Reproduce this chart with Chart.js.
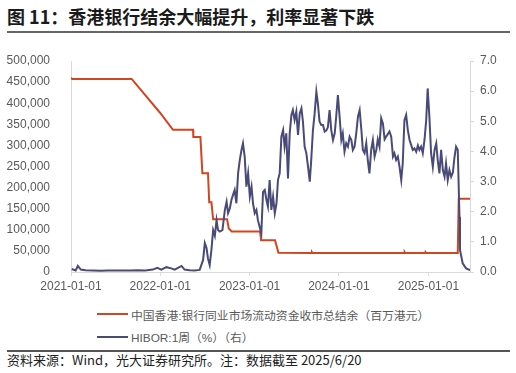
<!DOCTYPE html>
<html>
<head>
<meta charset="utf-8">
<script src="https://cdn.jsdelivr.net/npm/chart.js@4.4.0/dist/chart.umd.min.js"></script>
<style>
  body { margin: 0; width: 516px; height: 373px; background: #fff; position: relative; overflow: hidden;
         font-family: "Liberation Sans", "Noto Sans CJK SC", sans-serif; }
  #title { position: absolute; left: 7px; top: 6px; font: bold 18px/20px "Noto Sans CJK SC", sans-serif; color: #1a1a1a; white-space: nowrap; }
  .rule { position: absolute; left: 7px; width: 503px; background: #666; }
  #wrap { position: absolute; left: 0; top: 40px; width: 516px; height: 260px; }
  #legend { position: absolute; left: 97px; top: 305px; }
  #legend .row { display: flex; align-items: center; height: 18px; margin-bottom: 4.7px; }
  #legend .sw { width: 31px; height: 2px; margin-right: 3px; }
  #legend .tx { font: 11.8px "Liberation Sans", "Noto Sans CJK SC", sans-serif; color: #595959; white-space: nowrap; }
  #source { position: absolute; left: 7px; top: 352px; font: 13px/16px "Noto Sans CJK SC", sans-serif; color: #222; white-space: nowrap; }
</style>
</head>
<body>
<div id="title">图 11：香港银行结余大幅提升，利率显著下跌</div>
<div class="rule" style="top:31px;height:2px;"></div>
<div id="wrap"><canvas id="chart"></canvas></div>
<div id="legend"></div>
<div class="rule" style="top:350px;height:1.5px;background:#555;"></div>
<div id="source">资料来源：Wind，光大证券研究所。注：数据截至 2025/6/20</div>

<script>
// 总结余（百万港元）
const balanceDates = [
  '2021-01-01', '2021-01-06', '2021-09-06', '2021-12-30', '2022-02-22', '2022-05-15', '2022-05-16',
  '2022-06-14', '2022-06-22', '2022-07-15', '2022-07-20', '2022-07-29', '2022-08-05', '2022-10-01',
  '2022-10-08', '2022-10-20', '2023-02-13', '2023-02-17', '2023-04-15', '2023-04-29', '2023-09-12',
  '2023-09-13', '2023-09-15', '2024-03-20', '2024-03-21', '2024-03-23', '2024-09-25', '2024-09-26',
  '2024-09-28', '2024-12-20', '2024-12-21', '2024-12-23', '2025-05-01', '2025-05-05', '2025-06-20'
];
const balanceValues = [
  460000, 457500, 457500, 378000, 337000, 337000, 320000,
  320000, 234000, 234000, 165000, 165000, 125000, 125000,
  103000, 96000, 96000, 75500, 75500, 45500, 45000,
  46800, 45000, 45000, 46500, 45000, 45000, 47000,
  45000, 45000, 46500, 45000, 45000, 173500, 173500
];

// HIBOR 1周（%）
const hiborDates = [
  '2021-01-04', '2021-01-20', '2021-01-29', '2021-02-10', '2021-03-01', '2021-04-01', '2021-05-01',
  '2021-06-01', '2021-07-01', '2021-08-01', '2021-09-01', '2021-10-01', '2021-11-01', '2021-12-01',
  '2021-12-20', '2022-01-05', '2022-01-26', '2022-02-15', '2022-03-01', '2022-03-29', '2022-04-10',
  '2022-05-01', '2022-05-20', '2022-06-11', '2022-06-25', '2022-07-02', '2022-07-09', '2022-07-15',
  '2022-07-22', '2022-07-29', '2022-08-05', '2022-08-12', '2022-08-19', '2022-08-25', '2022-09-01',
  '2022-09-12', '2022-09-22', '2022-09-29', '2022-10-05', '2022-10-12', '2022-10-19', '2022-10-25',
  '2022-11-01', '2022-11-08', '2022-11-15', '2022-11-22', '2022-11-29', '2022-12-05', '2022-12-12',
  '2022-12-19', '2022-12-26', '2023-01-02', '2023-01-09', '2023-01-15', '2023-01-22', '2023-01-29',
  '2023-02-04', '2023-02-11', '2023-02-18', '2023-02-25', '2023-03-04', '2023-03-11', '2023-03-17',
  '2023-03-24', '2023-03-31', '2023-04-07', '2023-04-14', '2023-04-21', '2023-04-27', '2023-05-04',
  '2023-05-11', '2023-05-18', '2023-05-24', '2023-05-31', '2023-06-07', '2023-06-14', '2023-06-21',
  '2023-06-27', '2023-07-04', '2023-07-11', '2023-07-18', '2023-07-25', '2023-08-01', '2023-08-07',
  '2023-08-14', '2023-08-21', '2023-08-28', '2023-09-04', '2023-09-10', '2023-09-17', '2023-09-24',
  '2023-10-01', '2023-10-07', '2023-10-14', '2023-10-21', '2023-10-28', '2023-11-04', '2023-11-11',
  '2023-11-17', '2023-11-24', '2023-12-01', '2023-12-08', '2023-12-15', '2023-12-21', '2023-12-28',
  '2024-01-04', '2024-01-11', '2024-01-17', '2024-01-24', '2024-01-31', '2024-02-07', '2024-02-14',
  '2024-02-21', '2024-02-27', '2024-03-05', '2024-03-12', '2024-03-19', '2024-03-26', '2024-04-02',
  '2024-04-08', '2024-04-15', '2024-04-22', '2024-04-28', '2024-05-05', '2024-05-12', '2024-05-19',
  '2024-05-26', '2024-06-02', '2024-06-08', '2024-06-15', '2024-06-22', '2024-06-29', '2024-07-06',
  '2024-07-13', '2024-07-26', '2024-08-02', '2024-08-09', '2024-08-15', '2024-08-22', '2024-08-29',
  '2024-09-05', '2024-09-12', '2024-09-18', '2024-09-25', '2024-10-02', '2024-10-09', '2024-10-16',
  '2024-10-23', '2024-10-29', '2024-11-05', '2024-11-12', '2024-11-19', '2024-11-25', '2024-12-02',
  '2024-12-09', '2024-12-16', '2024-12-23', '2024-12-29', '2025-01-05', '2025-01-12', '2025-01-19',
  '2025-01-26', '2025-02-02', '2025-02-08', '2025-02-15', '2025-02-22', '2025-03-01', '2025-03-08',
  '2025-03-14', '2025-03-21', '2025-03-28', '2025-04-04', '2025-04-11', '2025-04-17', '2025-04-24',
  '2025-05-01', '2025-05-08', '2025-05-10', '2025-05-21', '2025-06-04', '2025-06-18', '2025-06-20'
];
const hiborValues = [
  0.10, 0.05, 0.20, 0.08, 0.06, 0.05, 0.04,
  0.05, 0.05, 0.05, 0.05, 0.06, 0.05, 0.08,
  0.14, 0.08, 0.16, 0.12, 0.08, 0.20, 0.08,
  0.06, 0.05, 0.07, 0.40, 0.96, 0.80, 0.45,
  0.23, 0.73, 1.39, 1.20, 1.72, 1.39, 1.34,
  1.39, 2.06, 2.33, 1.95, 2.10, 2.40, 2.55,
  2.72, 2.28, 3.27, 3.72, 4.05, 4.27, 3.83,
  2.83, 3.27, 2.50, 2.83, 2.28, 1.95, 2.06,
  1.72, 1.50, 1.28, 2.66, 2.72, 2.39, 2.17,
  3.05, 2.06, 2.50, 1.95, 2.28, 3.05, 3.27,
  4.49, 4.71, 4.16, 4.60, 3.10, 4.60, 5.21,
  5.37, 5.04, 5.32, 4.55, 5.26, 5.43, 5.00,
  4.16, 3.94, 3.49, 3.00, 3.72, 4.71, 5.26,
  5.98, 5.60, 4.99, 4.88, 4.88, 4.66, 4.70,
  4.80, 5.37, 4.70, 4.38, 4.60, 5.15, 5.87,
  5.15, 4.38, 4.60, 3.99, 4.27, 4.16, 4.49,
  4.38, 4.05, 4.16, 4.60, 5.15, 5.37, 4.71,
  4.05, 3.94, 4.27, 3.72, 3.27, 4.05, 4.38,
  3.83, 4.05, 4.40, 4.16, 5.10, 4.93, 4.40,
  4.50, 4.66, 4.49, 3.83, 3.94, 3.72, 3.83,
  3.49, 3.05, 3.60, 5.04, 5.21, 4.70, 4.38,
  4.20, 4.05, 4.10, 3.99, 4.20, 4.05, 4.16,
  3.94, 4.38, 5.04, 6.09, 5.15, 3.94, 3.49,
  4.05, 4.27, 3.72, 3.27, 4.05, 3.38, 3.16,
  3.60, 3.05, 3.38, 3.16, 3.30, 3.77, 4.16,
  4.05, 1.83, 0.73, 0.29, 0.12, 0.07, 0.08
];

const seriesLabels = ['中国香港:银行同业市场流动资金收市总结余（百万港元）', 'HIBOR:1周（%）（右）'];
const xTickDates = ['2021-01-01', '2022-01-01', '2023-01-01', '2024-01-01', '2025-01-01'];

const toPoints = (dates, vals) => dates.map((d, i) => ({ x: Date.parse(d), y: vals[i] }));

Chart.defaults.font.family = '"Liberation Sans", "Noto Sans CJK SC", sans-serif';
Chart.defaults.font.size = 12;
Chart.defaults.color = '#595959';

const chart = new Chart(document.getElementById('chart'), {
  type: 'line',
  data: {
    datasets: [{
      label: seriesLabels[0],
      data: toPoints(balanceDates, balanceValues),
      borderColor: '#D2451F',
      borderWidth: 2,
      pointRadius: 0,
      tension: 0,
      yAxisID: 'y',
      order: 2
    }, {
      label: seriesLabels[1],
      data: toPoints(hiborDates, hiborValues),
      borderColor: '#4A4A78',
      borderWidth: 2,
      pointRadius: 0,
      tension: 0,
      yAxisID: 'y1',
      order: 1
    }]
  },
  options: {
    animation: false,
    responsive: true,
    maintainAspectRatio: false,
    layout: { padding: { top: 21, left: 0, right: 0, bottom: 0 } },
    plugins: {
      legend: { display: false },
      tooltip: { enabled: false }
    },
    scales: {
      x: {
        type: 'linear',
        min: Date.parse('2021-01-01'),
        max: Date.parse('2025-06-20'),
        afterBuildTicks: s => { s.ticks = xTickDates.map(d => ({ value: Date.parse(d) })); },
        afterFit: s => { s.height = 28; },
        ticks: {
          autoSkip: false,
          maxRotation: 0,
          padding: 3,
          callback: v => new Date(v).toISOString().slice(0, 10)
        },
        grid: { drawOnChartArea: false, tickLength: 4, color: '#d9d9d9' },
        border: { color: '#d9d9d9' }
      },
      y: {
        position: 'left',
        min: 0,
        max: 500000,
        afterFit: s => { s.width = 71; },
        ticks: { stepSize: 50000, padding: 13, callback: v => v.toLocaleString('en-US') },
        grid: { display: false },
        border: { color: '#d9d9d9' }
      },
      y1: {
        position: 'right',
        min: 0,
        max: 7,
        afterFit: s => { s.width = 46; },
        ticks: { stepSize: 1, padding: 6, callback: v => v.toFixed(1) },
        grid: { drawOnChartArea: false, tickLength: 4, color: '#d9d9d9' },
        border: { color: '#d9d9d9' }
      }
    }
  }
});

// 图例
const legend = document.getElementById('legend');
chart.data.datasets.forEach(ds => {
  const row = document.createElement('div');
  row.className = 'row';
  row.innerHTML = '<span class="sw" style="background:' + ds.borderColor + '"></span><span class="tx"></span>';
  row.querySelector('.tx').textContent = ds.label;
  legend.appendChild(row);
});
</script>
</body>
</html>
